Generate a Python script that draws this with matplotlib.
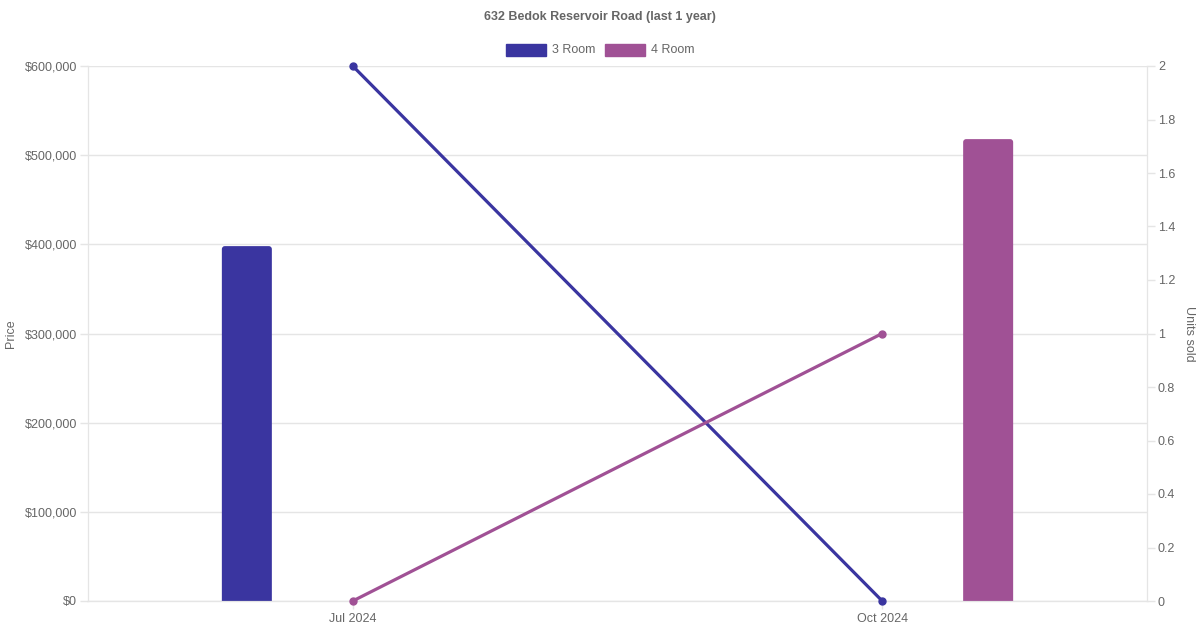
import matplotlib.pyplot as plt
from matplotlib.patches import Rectangle, FancyBboxPatch
from matplotlib.ticker import FuncFormatter

plt.rcParams['font.family'] = ['Liberation Sans', 'DejaVu Sans']

months = ["Jul 2024", "Oct 2024"]
series = ["3 Room", "4 Room"]
colors = ["#3a35a0", "#a05195"]
# median price per flat type (None = no sale that month)
price_3room = [398000, None]
price_4room = [None, 518000]
# units sold per flat type
units_3room = [2, 0]
units_4room = [0, 1]

TXT = "#666666"
GRID = "#e5e5e5"

fig = plt.figure(figsize=(12, 6.3), dpi=100)
ax = fig.add_axes([88 / 1200, 29 / 630, (1147 - 88) / 1200, (601 - 66) / 630])
ax2 = ax.twinx()

ax.set_xlim(-0.5, 1.5)
ax.set_ylim(0, 600000)

# data units per pixel, for the rounded bar tops
xpp = 2 / 1059
ypp = 600000 / 535
bar_w = 50 * xpp
r = 3 * xpp

x = list(range(len(months)))
offsets = [-0.2, 0.2]
for prices, off, c in zip([price_3room, price_4room], offsets, colors):
    for xi, p in zip(x, prices):
        if p is not None:
            # start below zero so only the top corners show as rounded
            bottom = -10 * ypp
            ax.add_patch(FancyBboxPatch((xi + off - bar_w / 2, bottom), bar_w, p - bottom,
                                        boxstyle=f"round,pad=0,rounding_size={r}",
                                        mutation_aspect=ypp / xpp, color=c, lw=0, zorder=2))

for units, c in zip([units_3room, units_4room], colors):
    ax2.plot(x, units, color=c, lw=2.3, marker="o", ms=5, zorder=3,
             solid_capstyle="round", clip_on=False)

ax.set_yticks(range(0, 600001, 100000))
ax.yaxis.set_major_formatter(FuncFormatter(lambda v, p: f"${v:,.0f}"))
ax.set_xticks(x)
ax.set_xticklabels(months)
ax2.set_ylim(0, 2)
ax2.set_yticks([i * 0.2 for i in range(11)])
ax2.yaxis.set_major_formatter(FuncFormatter(lambda v, p: f"{v:g}"))

ax.grid(axis="y", color=GRID, lw=1, zorder=0)
ax.set_axisbelow(True)
for a in (ax, ax2):
    for s in a.spines.values():
        s.set_color(GRID)
    a.spines["top"].set_visible(False)
    a.tick_params(colors=GRID, labelcolor=TXT, labelsize=9, length=5.8, width=1, pad=2)
ax.spines["bottom"].set_color("#cccccc")
ax.tick_params(axis="x", length=5.8, pad=2.5)

fig.text(11 / 1200, 1 - 334 / 630, "Price", rotation=90, ha="center", va="center",
         color=TXT, fontsize=9)
fig.text(1189 / 1200, 1 - 334 / 630, "Units sold", rotation=-90, ha="center",
         va="center", color=TXT, fontsize=9)

fig.text(0.5, 1 - 17 / 630, "632 Bedok Reservoir Road (last 1 year)", ha="center",
         va="center", color=TXT, fontsize=9, fontweight="bold")

# legend, drawn like the chart.js one
lx = [506, 605]
for name, c, px in zip(series, colors, lx):
    fig.patches.append(Rectangle((px / 1200, 1 - 56 / 630), 40 / 1200, 12 / 630,
                                 transform=fig.transFigure, color=c))
    fig.text((px + 46) / 1200, 1 - 50 / 630, name, ha="left", va="center",
             color=TXT, fontsize=9)

fig.savefig("out.png", dpi=100)
